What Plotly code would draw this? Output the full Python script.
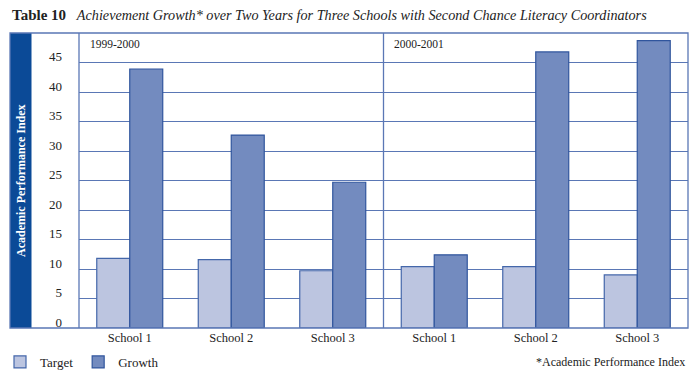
import plotly.graph_objects as go

schools = ["School 1", "School 2", "School 3"]
periods = ["1999-2000", "2000-2001"]
target_1999 = [11.8, 11.6, 9.7]
growth_1999 = [43.9, 32.7, 24.7]
target_2000 = [10.4, 10.4, 9.0]
growth_2000 = [12.4, 46.8, 48.7]
y_ticks = [0, 5, 10, 15, 20, 25, 30, 35, 40, 45]

SERIF = "Liberation Serif"
GRID = "#5A77B5"
TARGET_FILL = "#BCC5E0"
TARGET_LINE = "#4467AA"
GROWTH_FILL = "#738BBF"
GROWTH_LINE = "#30559D"
BAND = "#0B4A97"
TEXT = "#222222"

fig = go.Figure()
for i, (tv, gv) in enumerate([(target_1999, growth_1999), (target_2000, growth_2000)]):
    xa = "x" if i == 0 else "x2"
    fig.add_trace(go.Bar(
        x=schools, y=tv, name="Target", xaxis=xa, yaxis="y",
        marker=dict(color=TARGET_FILL, line=dict(color=TARGET_LINE, width=1.2)),
        showlegend=(i == 0), legendgroup="t"))
    fig.add_trace(go.Bar(
        x=schools, y=gv, name="Growth", xaxis=xa, yaxis="y",
        marker=dict(color=GROWTH_FILL, line=dict(color=GROWTH_LINE, width=1.2)),
        showlegend=(i == 0), legendgroup="g"))

W, H = 700, 384
L, R, T, B = 79, 12, 33, 56
pw = W - L - R
ph = H - T - B

def px(x):
    return (x - L) / pw

def py(y):
    return (H - B - y) / ph

xaxis_common = dict(
    showgrid=False, zeroline=False, showline=False, ticks="", automargin=False,
    tickfont=dict(family=SERIF, size=12.5, color=TEXT), fixedrange=True,
)
fig.update_layout(
    template="none",
    width=W, height=H,
    margin=dict(l=L, r=R, t=T, b=B, autoexpand=False),
    paper_bgcolor="white", plot_bgcolor="white",
    barmode="group", bargap=0.35, bargroupgap=0,
    font=dict(family=SERIF, color=TEXT),
    xaxis=dict(domain=[0, 0.5], anchor="y", **xaxis_common),
    xaxis2=dict(domain=[0.5, 1], anchor="y", **xaxis_common),
    yaxis=dict(
        range=[0, 50], tickvals=y_ticks, ticktext=[str(v) for v in y_ticks],
        showgrid=True, gridcolor=GRID, gridwidth=1.2, zeroline=False,
        showline=False, ticks="", ticklabelstandoff=16, ticklabelshift=-6,
        automargin=False,
        tickfont=dict(family=SERIF, size=13, color=TEXT), fixedrange=True,
    ),
    showlegend=True,
    legend=dict(
        orientation="h", xref="container", yref="container",
        x=-6 / W, xanchor="left", y=1 - 347 / H, yanchor="top",
        font=dict(family=SERIF, size=13, color=TEXT),
        itemwidth=30, tracegroupgap=0, bgcolor="rgba(0,0,0,0)",
    ),
)

# frame, band, divider, baseline
fig.add_shape(type="rect", xref="paper", yref="paper",
              x0=px(10), x1=px(31.5), y0=0, y1=1,
              fillcolor=BAND, line=dict(width=0), layer="below")
fig.add_shape(type="rect", xref="paper", yref="paper",
              x0=px(10), x1=1, y0=0, y1=1,
              line=dict(color=GRID, width=1.3), layer="above")
fig.add_shape(type="line", xref="paper", yref="paper",
              x0=0, x1=0, y0=0, y1=1, line=dict(color=GRID, width=1.3))
fig.add_shape(type="line", xref="paper", yref="paper",
              x0=0.5, x1=0.5, y0=0, y1=1, line=dict(color=GRID, width=1.3))

annotations = [
    dict(text="<b>Academic Performance Index</b>", textangle=-90,
         x=px(21), y=py(181), xref="paper", yref="paper",
         xanchor="center", yanchor="middle",
         showarrow=False, font=dict(family=SERIF, size=12, color="white")),
    dict(text="<b>Table 10</b>  <i><span style='font-size:14.2px'> Achievement Growth* over Two Years for Three Schools with Second Chance Literacy Coordinators</span></i>",
         x=px(10), y=py(15), xref="paper", yref="paper", xanchor="left", yanchor="middle",
         showarrow=False, font=dict(family=SERIF, size=15, color=TEXT)),
    dict(text=periods[0], x=px(88), y=py(44), xref="paper", yref="paper",
         xanchor="left", yanchor="middle", showarrow=False,
         font=dict(family=SERIF, size=11.5, color=TEXT)),
    dict(text=periods[1], x=px(392), y=py(44), xref="paper", yref="paper",
         xanchor="left", yanchor="middle", showarrow=False,
         font=dict(family=SERIF, size=11.5, color=TEXT)),
    dict(text="*Academic Performance Index", x=px(687), y=py(362), xref="paper", yref="paper",
         xanchor="right", yanchor="middle", showarrow=False,
         font=dict(family=SERIF, size=12, color=TEXT)),
]
fig.update_layout(annotations=annotations)

fig.write_html("out.html", config={"displayModeBar": False},
               post_script="document.body.style.margin='0';")
